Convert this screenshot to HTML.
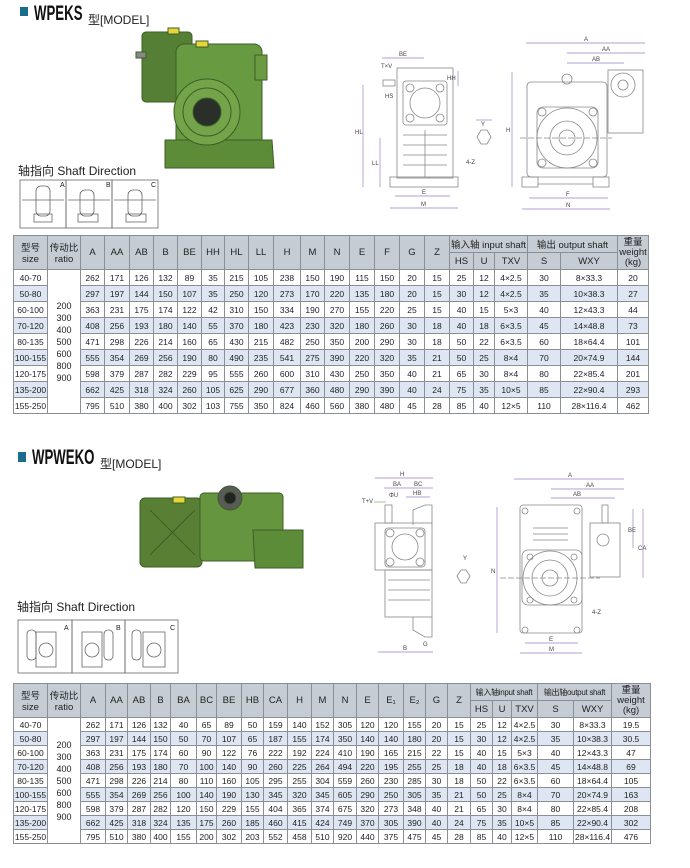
<!DOCTYPE html>
<html><head><meta charset="utf-8"><style>
body{margin:0;width:690px;height:868px;background:#fff;position:relative;overflow:hidden;font-family:"Liberation Sans","Noto Sans CJK SC",sans-serif;color:#222}
.t{position:absolute;white-space:nowrap}
.ti{position:absolute;white-space:nowrap;font-size:21px;font-weight:bold;transform:scaleX(.63);transform-origin:left top;color:#111}
table{position:absolute;border-collapse:collapse;table-layout:fixed;font-size:8.5px}
td{border:1px solid #8a8f96;text-align:center;padding:0;overflow:hidden;white-space:nowrap}
tr.h td{background:#c5ccd4;font-size:9.5px}
tr.h td.sm{font-size:8px;letter-spacing:-0.3px}
tr.r1 td{background:#fff;height:15px}
tr.r2 td{background:#dde6f2;height:15px}
td.rat{background:#fff!important;line-height:12px;font-size:9px}
#t2 tr.r1 td,#t2 tr.r2 td{height:13px}
</style></head><body>
<div class="t" style="left:20px;top:7px;width:8px;height:9px;background:#1b6e8a"></div>
<div class="ti" style="left:34px;top:2px">WPEKS</div>
<div class="t" style="left:88px;top:11px;font-size:12px">型[MODEL]</div>
<div class="t" style="left:18px;top:162px;font-size:12px">轴指向 Shaft Direction</div>
<div class="t" style="left:18px;top:452px;width:8px;height:10px;background:#1b6e8a"></div>
<div class="ti" style="left:32px;top:446px">WPWEKO</div>
<div class="t" style="left:100px;top:455px;font-size:12px">型[MODEL]</div>
<div class="t" style="left:17px;top:598px;font-size:12px">轴指向 Shaft Direction</div>

<svg class="t" style="left:0;top:0" width="690" height="868" viewBox="0 0 690 868">
<!-- photo 1 -->
<g stroke="#3d5e26" stroke-width="1">
<rect x="142" y="32" width="50" height="70" rx="4" fill="#557f34"/>
<rect x="136" y="52" width="10" height="6" fill="#888"/>
<rect x="176" y="44" width="86" height="112" rx="8" fill="#689a42"/>
<path d="M165 140 L272 140 L274 168 L165 168 Z" fill="#5d8c38"/>
<rect x="255" y="55" width="12" height="25" fill="#6b9a42"/>
<circle cx="207" cy="112" r="33" fill="#74a44a"/>
<circle cx="207" cy="112" r="24" fill="none"/>
<circle cx="207" cy="112" r="14" fill="#2b2f2a"/>
<rect x="168" y="28" width="11" height="6" fill="#e8d53a"/>
<rect x="196" y="41" width="12" height="6" fill="#e8d53a"/>
</g>
<!-- photo 2 -->
<g stroke="#3d5e26">
<rect x="140" y="498" width="62" height="69" rx="5" fill="#587f34"/>
<rect x="200" y="493" width="83" height="68" rx="4" fill="#66953f"/>
<path d="M253 530 L303 530 L303 568 L255 568 Z" fill="#5d8c38"/>
<circle cx="230" cy="498" r="12" fill="#5a5a5a"/>
<circle cx="230" cy="498" r="6" fill="#222"/>
<rect x="173" y="497" width="12" height="6" fill="#e8d53a"/>
<line x1="150" y1="510" x2="195" y2="555"/><line x1="195" y1="510" x2="150" y2="555"/>
</g>
<!-- shaft direction boxes -->
<g fill="none" stroke="#666" stroke-width="0.8">
<rect x="20" y="180" width="46" height="48"/><rect x="66" y="180" width="46" height="48"/><rect x="112" y="180" width="46" height="48"/>
<rect x="36" y="186" width="14" height="30" rx="5"/><rect x="34" y="214" width="18" height="8"/>
<rect x="80" y="190" width="14" height="26" rx="5"/><rect x="78" y="214" width="20" height="8"/>
<rect x="128" y="190" width="14" height="26" rx="5"/><rect x="126" y="214" width="20" height="8"/>
<line x1="22" y1="200" x2="64" y2="200"/><line x1="68" y1="200" x2="110" y2="200"/><line x1="114" y1="200" x2="156" y2="200"/>
<rect x="18" y="620" width="54" height="53"/><rect x="72" y="620" width="53" height="53"/><rect x="125" y="620" width="53" height="53"/>
<rect x="27" y="630" width="9" height="30" rx="4"/><rect x="36" y="632" width="20" height="35"/><circle cx="46" cy="650" r="7"/>
<rect x="82" y="632" width="20" height="35"/><rect x="104" y="630" width="9" height="30" rx="4"/><circle cx="92" cy="650" r="7"/>
<rect x="132" y="630" width="9" height="30" rx="4"/><rect x="143" y="632" width="22" height="35"/><circle cx="154" cy="650" r="7"/>
</g>
<g font-size="7" fill="#222"><text x="60" y="187">A</text><text x="106" y="187">B</text><text x="151" y="187">C</text>
<text x="64" y="630">A</text><text x="116" y="630">B</text><text x="170" y="630">C</text></g>

<!-- top side view -->
<g fill="none" stroke="#888" stroke-width="0.8">
<rect x="397" y="68" width="56" height="110"/>
<rect x="390" y="177" width="68" height="10"/>
<rect x="403" y="81" width="44" height="44" rx="3"/>
<circle cx="425" cy="103" r="15"/><circle cx="410" cy="88" r="4"/><circle cx="440" cy="88" r="4"/><circle cx="410" cy="118" r="4"/><circle cx="440" cy="118" r="4"/>
<line x1="403" y1="135" x2="447" y2="135"/><line x1="403" y1="145" x2="447" y2="145"/><line x1="403" y1="155" x2="447" y2="155"/><line x1="403" y1="165" x2="447" y2="165"/>
<line x1="425" y1="130" x2="425" y2="177"/>
<rect x="383" y="80" width="12" height="6"/>
<path d="M477 137 L481 130 L487 130 L491 137 L487 144 L481 144 Z"/>
</g>
<g fill="none" stroke="#9a7fc0" stroke-width="0.7">
<line x1="382" y1="58" x2="424" y2="58"/><line x1="363" y1="85" x2="363" y2="187"/><line x1="380" y1="138" x2="380" y2="187"/>
<line x1="395" y1="196" x2="450" y2="196"/><line x1="390" y1="208" x2="458" y2="208"/>
<line x1="476" y1="120" x2="492" y2="120"/><line x1="458" y1="71" x2="458" y2="86"/>
<line x1="526" y1="43" x2="645" y2="43"/><line x1="567" y1="53" x2="645" y2="53"/><line x1="567" y1="63" x2="624" y2="63"/>
<line x1="512" y1="72" x2="512" y2="187"/><line x1="529" y1="198" x2="608" y2="198"/><line x1="522" y1="209" x2="610" y2="209"/>
</g>
<!-- top front view -->
<g fill="none" stroke="#888" stroke-width="0.8">
<rect x="527" y="82" width="80" height="95" rx="4"/>
<rect x="537" y="107" width="61" height="61" rx="6"/>
<circle cx="567" cy="138" r="30"/><circle cx="567" cy="138" r="17"/><circle cx="567" cy="138" r="8"/>
<circle cx="542" cy="112" r="4"/><circle cx="593" cy="112" r="4"/><circle cx="542" cy="163" r="4"/><circle cx="593" cy="163" r="4"/>
<circle cx="567" cy="79" r="5"/>
<rect x="608" y="70" width="35" height="63"/><circle cx="623" cy="85" r="12"/><circle cx="623" cy="85" r="5"/>
<rect x="522" y="177" width="16" height="10"/><rect x="593" y="177" width="16" height="10"/><line x1="538" y1="184" x2="593" y2="184"/>
<line x1="520" y1="138" x2="612" y2="138" stroke-dasharray="6 2"/>
</g>
<g font-size="6" fill="#444">
<text x="399" y="56">BE</text><text x="381" y="68">T×V</text><text x="385" y="98">HS</text><text x="355" y="134">HL</text><text x="372" y="165">LL</text>
<text x="422" y="194">E</text><text x="421" y="206">M</text><text x="481" y="126">Y</text><text x="466" y="164">4-Z</text><text x="447" y="80">HH</text>
<text x="584" y="41">A</text><text x="602" y="51">AA</text><text x="592" y="61">AB</text><text x="506" y="132">H</text><text x="566" y="196">F</text><text x="566" y="207">N</text>
</g>

<!-- bottom side view -->
<g fill="none" stroke="#888" stroke-width="0.8">
<rect x="375" y="523" width="57" height="47"/>
<rect x="385" y="528" width="40" height="39" rx="3"/>
<circle cx="405" cy="547" r="13"/><circle cx="390" cy="533" r="4"/><circle cx="420" cy="533" r="4"/><circle cx="390" cy="562" r="4"/><circle cx="420" cy="562" r="4"/>
<rect x="385" y="570" width="47" height="47"/>
<line x1="388" y1="580" x2="430" y2="580"/><line x1="388" y1="590" x2="430" y2="590"/><line x1="388" y1="600" x2="430" y2="600"/>
<path d="M413 525 L413 510 L425 505 L432 505 L432 525"/>
<path d="M413 617 L413 630 L425 637 L432 637 L432 617"/>
<rect x="385" y="505" width="7" height="18"/>
<path d="M457 576 L461 570 L466 570 L470 576 L466 583 L461 583 Z"/>
</g>
<g fill="none" stroke="#9a7fc0" stroke-width="0.7">
<line x1="375" y1="478" x2="433" y2="478"/><line x1="384" y1="488" x2="433" y2="488"/><line x1="406" y1="497" x2="430" y2="497"/>
<line x1="378" y1="652" x2="433" y2="652"/><line x1="374" y1="502" x2="386" y2="502" stroke="#6ab06a"/>
<line x1="514" y1="479" x2="624" y2="479"/><line x1="551" y1="489" x2="624" y2="489"/><line x1="551" y1="498" x2="615" y2="498"/>
<line x1="497" y1="507" x2="497" y2="633"/><line x1="643" y1="509" x2="643" y2="578"/><line x1="633" y1="509" x2="633" y2="548"/>
<line x1="525" y1="643" x2="578" y2="643"/><line x1="520" y1="653" x2="582" y2="653"/>
</g>
<!-- bottom front view -->
<g fill="none" stroke="#888" stroke-width="0.8">
<rect x="520" y="505" width="62" height="128" rx="3"/>
<rect x="522" y="550" width="60" height="55" rx="6"/>
<circle cx="550" cy="578" r="27"/><circle cx="550" cy="578" r="18"/><circle cx="550" cy="578" r="8"/>
<circle cx="530" cy="557" r="3"/><circle cx="574" cy="557" r="3"/><circle cx="530" cy="600" r="3"/><circle cx="574" cy="600" r="3"/>
<rect x="590" y="523" width="30" height="54"/><circle cx="603" cy="540" r="6"/>
<rect x="602" y="505" width="6" height="18"/>
<circle cx="525" cy="511" r="3"/><circle cx="577" cy="511" r="3"/><circle cx="525" cy="630" r="3"/><circle cx="577" cy="630" r="3"/>
<line x1="533" y1="528" x2="568" y2="528"/><line x1="533" y1="534" x2="568" y2="534"/><line x1="533" y1="540" x2="568" y2="540"/>
<line x1="500" y1="578" x2="600" y2="578" stroke-dasharray="6 2"/>
</g>
<g font-size="6" fill="#444">
<text x="400" y="476">H</text><text x="393" y="486">BA</text><text x="414" y="486">BC</text><text x="413" y="495">HB</text><text x="362" y="503">T+V</text><text x="389" y="497">ΦU</text>
<text x="403" y="650">B</text><text x="423" y="646">G</text><text x="463" y="560">Y</text>
<text x="568" y="477">A</text><text x="586" y="487">AA</text><text x="573" y="496">AB</text><text x="491" y="573">N</text><text x="638" y="550">CA</text><text x="628" y="532">BE</text>
<text x="549" y="641">E</text><text x="549" y="651">M</text><text x="592" y="614">4-Z</text>
</g>
</svg>

<table style="left:13px;top:235px;width:635px">
<colgroup><col style="width:34px"><col style="width:33px"><col style="width:24px"><col style="width:25px"><col style="width:24px"><col style="width:24px"><col style="width:24px"><col style="width:23px"><col style="width:24px"><col style="width:25px"><col style="width:27px"><col style="width:24px"><col style="width:25px"><col style="width:25px"><col style="width:25px"><col style="width:25px"><col style="width:25px"><col style="width:24px"><col style="width:21px"><col style="width:33px"><col style="width:33px"><col style="width:57px"><col style="width:31px"></colgroup>
<tr class="h" style="height:17px"><td rowspan="2">型号<br>size</td><td rowspan="2">传动比<br>ratio</td><td rowspan="2">A</td><td rowspan="2">AA</td><td rowspan="2">AB</td><td rowspan="2">B</td><td rowspan="2">BE</td><td rowspan="2">HH</td><td rowspan="2">HL</td><td rowspan="2">LL</td><td rowspan="2">H</td><td rowspan="2">M</td><td rowspan="2">N</td><td rowspan="2">E</td><td rowspan="2">F</td><td rowspan="2">G</td><td rowspan="2">Z</td><td colspan="3">输入轴 input shaft</td><td colspan="2">输出 output shaft</td><td rowspan="2" style="line-height:10px">重量<br>weight<br>(kg)</td></tr>
<tr class="h" style="height:17px"><td>HS</td><td>U</td><td>TXV</td><td>S</td><td>WXY</td></tr>
<tr class="r1"><td>40-70</td><td class="rat" rowspan="9">200<br>300<br>400<br>500<br>600<br>800<br>900</td><td>262</td><td>171</td><td>126</td><td>132</td><td>89</td><td>35</td><td>215</td><td>105</td><td>238</td><td>150</td><td>190</td><td>115</td><td>150</td><td>20</td><td>15</td><td>25</td><td>12</td><td>4×2.5</td><td>30</td><td>8×33.3</td><td>20</td></tr>
<tr class="r2"><td>50-80</td><td>297</td><td>197</td><td>144</td><td>150</td><td>107</td><td>35</td><td>250</td><td>120</td><td>273</td><td>170</td><td>220</td><td>135</td><td>180</td><td>20</td><td>15</td><td>30</td><td>12</td><td>4×2.5</td><td>35</td><td>10×38.3</td><td>27</td></tr>
<tr class="r1"><td>60-100</td><td>363</td><td>231</td><td>175</td><td>174</td><td>122</td><td>42</td><td>310</td><td>150</td><td>334</td><td>190</td><td>270</td><td>155</td><td>220</td><td>25</td><td>15</td><td>40</td><td>15</td><td>5×3</td><td>40</td><td>12×43.3</td><td>44</td></tr>
<tr class="r2"><td>70-120</td><td>408</td><td>256</td><td>193</td><td>180</td><td>140</td><td>55</td><td>370</td><td>180</td><td>423</td><td>230</td><td>320</td><td>180</td><td>260</td><td>30</td><td>18</td><td>40</td><td>18</td><td>6×3.5</td><td>45</td><td>14×48.8</td><td>73</td></tr>
<tr class="r1"><td>80-135</td><td>471</td><td>298</td><td>226</td><td>214</td><td>160</td><td>65</td><td>430</td><td>215</td><td>482</td><td>250</td><td>350</td><td>200</td><td>290</td><td>30</td><td>18</td><td>50</td><td>22</td><td>6×3.5</td><td>60</td><td>18×64.4</td><td>101</td></tr>
<tr class="r2"><td>100-155</td><td>555</td><td>354</td><td>269</td><td>256</td><td>190</td><td>80</td><td>490</td><td>235</td><td>541</td><td>275</td><td>390</td><td>220</td><td>320</td><td>35</td><td>21</td><td>50</td><td>25</td><td>8×4</td><td>70</td><td>20×74.9</td><td>144</td></tr>
<tr class="r1"><td>120-175</td><td>598</td><td>379</td><td>287</td><td>282</td><td>229</td><td>95</td><td>555</td><td>260</td><td>600</td><td>310</td><td>430</td><td>250</td><td>350</td><td>40</td><td>21</td><td>65</td><td>30</td><td>8×4</td><td>80</td><td>22×85.4</td><td>201</td></tr>
<tr class="r2"><td>135-200</td><td>662</td><td>425</td><td>318</td><td>324</td><td>260</td><td>105</td><td>625</td><td>290</td><td>677</td><td>360</td><td>480</td><td>290</td><td>390</td><td>40</td><td>24</td><td>75</td><td>35</td><td>10×5</td><td>85</td><td>22×90.4</td><td>293</td></tr>
<tr class="r1"><td>155-250</td><td>795</td><td>510</td><td>380</td><td>400</td><td>302</td><td>103</td><td>755</td><td>350</td><td>824</td><td>460</td><td>560</td><td>380</td><td>480</td><td>45</td><td>28</td><td>85</td><td>40</td><td>12×5</td><td>110</td><td>28×116.4</td><td>462</td></tr>
</table>

<table id="t2" style="left:13px;top:683px;width:637px">
<colgroup><col style="width:34px"><col style="width:33px"><col style="width:25px"><col style="width:22px"><col style="width:23px"><col style="width:20px"><col style="width:26px"><col style="width:20px"><col style="width:25px"><col style="width:22px"><col style="width:24px"><col style="width:24px"><col style="width:22px"><col style="width:23px"><col style="width:22px"><col style="width:25px"><col style="width:22px"><col style="width:22px"><col style="width:23px"><col style="width:22px"><col style="width:19px"><col style="width:26px"><col style="width:36px"><col style="width:38px"><col style="width:39px"></colgroup>
<tr class="h" style="height:17px"><td rowspan="2">型号<br>size</td><td rowspan="2">传动比<br>ratio</td><td rowspan="2">A</td><td rowspan="2">AA</td><td rowspan="2">AB</td><td rowspan="2">B</td><td rowspan="2">BA</td><td rowspan="2">BC</td><td rowspan="2">BE</td><td rowspan="2">HB</td><td rowspan="2">CA</td><td rowspan="2">H</td><td rowspan="2">M</td><td rowspan="2">N</td><td rowspan="2">E</td><td rowspan="2">E₁</td><td rowspan="2">E₂</td><td rowspan="2">G</td><td rowspan="2">Z</td><td colspan="3" class="sm">输入轴input shaft</td><td colspan="2" class="sm">输出轴output shaft</td><td rowspan="2" style="line-height:10px">重量<br>weight<br>(kg)</td></tr>
<tr class="h" style="height:17px"><td>HS</td><td>U</td><td>TXV</td><td>S</td><td>WXY</td></tr>
<tr class="r1"><td>40-70</td><td class="rat" rowspan="9">200<br>300<br>400<br>500<br>600<br>800<br>900</td><td>262</td><td>171</td><td>126</td><td>132</td><td>40</td><td>65</td><td>89</td><td>50</td><td>159</td><td>140</td><td>152</td><td>305</td><td>120</td><td>120</td><td>155</td><td>20</td><td>15</td><td>25</td><td>12</td><td>4×2.5</td><td>30</td><td>8×33.3</td><td>19.5</td></tr>
<tr class="r2"><td>50-80</td><td>297</td><td>197</td><td>144</td><td>150</td><td>50</td><td>70</td><td>107</td><td>65</td><td>187</td><td>155</td><td>174</td><td>350</td><td>140</td><td>140</td><td>180</td><td>20</td><td>15</td><td>30</td><td>12</td><td>4×2.5</td><td>35</td><td>10×38.3</td><td>30.5</td></tr>
<tr class="r1"><td>60-100</td><td>363</td><td>231</td><td>175</td><td>174</td><td>60</td><td>90</td><td>122</td><td>76</td><td>222</td><td>192</td><td>224</td><td>410</td><td>190</td><td>165</td><td>215</td><td>22</td><td>15</td><td>40</td><td>15</td><td>5×3</td><td>40</td><td>12×43.3</td><td>47</td></tr>
<tr class="r2"><td>70-120</td><td>408</td><td>256</td><td>193</td><td>180</td><td>70</td><td>100</td><td>140</td><td>90</td><td>260</td><td>225</td><td>264</td><td>494</td><td>220</td><td>195</td><td>255</td><td>25</td><td>18</td><td>40</td><td>18</td><td>6×3.5</td><td>45</td><td>14×48.8</td><td>69</td></tr>
<tr class="r1"><td>80-135</td><td>471</td><td>298</td><td>226</td><td>214</td><td>80</td><td>110</td><td>160</td><td>105</td><td>295</td><td>255</td><td>304</td><td>559</td><td>260</td><td>230</td><td>285</td><td>30</td><td>18</td><td>50</td><td>22</td><td>6×3.5</td><td>60</td><td>18×64.4</td><td>105</td></tr>
<tr class="r2"><td>100-155</td><td>555</td><td>354</td><td>269</td><td>256</td><td>100</td><td>140</td><td>190</td><td>130</td><td>345</td><td>320</td><td>345</td><td>605</td><td>290</td><td>250</td><td>305</td><td>35</td><td>21</td><td>50</td><td>25</td><td>8×4</td><td>70</td><td>20×74.9</td><td>163</td></tr>
<tr class="r1"><td>120-175</td><td>598</td><td>379</td><td>287</td><td>282</td><td>120</td><td>150</td><td>229</td><td>155</td><td>404</td><td>365</td><td>374</td><td>675</td><td>320</td><td>273</td><td>348</td><td>40</td><td>21</td><td>65</td><td>30</td><td>8×4</td><td>80</td><td>22×85.4</td><td>208</td></tr>
<tr class="r2"><td>135-200</td><td>662</td><td>425</td><td>318</td><td>324</td><td>135</td><td>175</td><td>260</td><td>185</td><td>460</td><td>415</td><td>424</td><td>749</td><td>370</td><td>305</td><td>390</td><td>40</td><td>24</td><td>75</td><td>35</td><td>10×5</td><td>85</td><td>22×90.4</td><td>302</td></tr>
<tr class="r1"><td>155-250</td><td>795</td><td>510</td><td>380</td><td>400</td><td>155</td><td>200</td><td>302</td><td>203</td><td>552</td><td>458</td><td>510</td><td>920</td><td>440</td><td>375</td><td>475</td><td>45</td><td>28</td><td>85</td><td>40</td><td>12×5</td><td>110</td><td>28×116.4</td><td>476</td></tr>
</table>
</body></html>
